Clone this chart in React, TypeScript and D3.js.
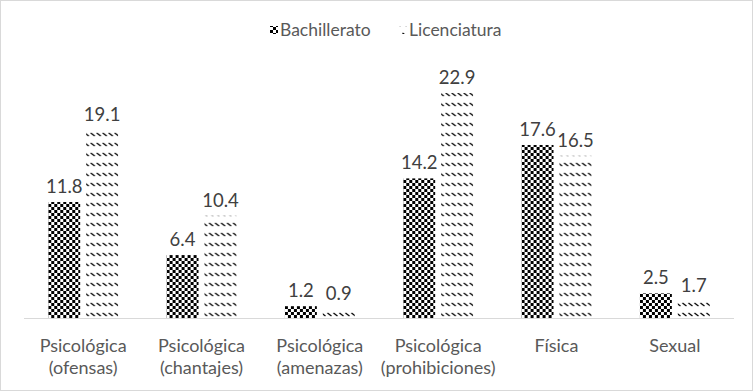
import React, { useEffect, useRef } from 'react';
import * as d3 from 'd3';

const categories = [
  ['Psicológica', '(ofensas)'],
  ['Psicológica', '(chantajes)'],
  ['Psicológica', '(amenazas)'],
  ['Psicológica', '(prohibiciones)'],
  ['Física'],
  ['Sexual'],
];
const seriesNames = ['Bachillerato', 'Licenciatura'];
const bachillerato = [11.8, 6.4, 1.2, 14.2, 17.6, 2.5];
const licenciatura = [19.1, 10.4, 0.9, 22.9, 16.5, 1.7];

const W = 753;
const H = 391;
const font = 'Lato, Calibri, sans-serif';

const App = () => {
  const svgRef = useRef<SVGSVGElement>(null);

  useEffect(() => {
    const svg = d3.select(svgRef.current);
    svg.selectAll('*').remove();

    // patterns
    const defs = svg.append('defs');
    const checker = defs.append('pattern')
      .attr('id', 'checker')
      .attr('patternUnits', 'userSpaceOnUse')
      .attr('width', 6)
      .attr('height', 6);
    checker.append('rect').attr('width', 6).attr('height', 6).attr('fill', '#fff');
    checker.append('rect').attr('width', 3).attr('height', 3).attr('fill', '#000');
    checker.append('rect').attr('x', 3).attr('y', 3).attr('width', 3).attr('height', 3).attr('fill', '#000');

    const dash = defs.append('pattern')
      .attr('id', 'dash')
      .attr('patternUnits', 'userSpaceOnUse')
      .attr('width', 6)
      .attr('height', 10);
    dash.append('rect').attr('width', 6).attr('height', 10).attr('fill', '#fff');
    dash.append('path').attr('d', 'M0.5,3 L4.5,6').attr('stroke', '#000').attr('stroke-width', 1.3);

    const fills = ['url(#checker)', 'url(#dash)'];

    // border
    svg.append('rect')
      .attr('x', 0.5).attr('y', 0.5)
      .attr('width', W - 1).attr('height', H - 1)
      .attr('fill', '#fff')
      .attr('stroke', '#d9d9d9');

    const x0 = d3.scaleBand<number>()
      .domain(d3.range(categories.length))
      .range([24, 734])
      .paddingInner(0.41)
      .paddingOuter(0.205);

    const x1 = d3.scaleBand<number>()
      .domain([0, 1])
      .range([0, x0.bandwidth()])
      .paddingInner(0.158);

    const y = d3.scaleLinear().domain([0, 25]).range([318, 72.25]);

    const data = [bachillerato, licenciatura];

    const groups = svg.append('g')
      .selectAll('g')
      .data(categories)
      .enter()
      .append('g')
      .attr('transform', (d, i) => `translate(${x0(i)},0)`);

    groups.each(function (d, i) {
      const g = d3.select(this);
      data.forEach((vals, s) => {
        g.append('rect')
          .attr('x', x1(s)!)
          .attr('y', y(vals[i]))
          .attr('width', x1.bandwidth())
          .attr('height', y(0) - y(vals[i]))
          .attr('fill', fills[s]);
        g.append('text')
          .attr('x', x1(s)! + x1.bandwidth() / 2)
          .attr('y', y(vals[i]) - 9)
          .attr('text-anchor', 'middle')
          .attr('font-family', font)
          .attr('font-size', 18.5)
          .attr('fill', '#404040')
          .text(vals[i].toFixed(1));
      });
    });

    // baseline
    svg.append('line')
      .attr('x1', 24).attr('x2', 734)
      .attr('y1', y(0) + 0.5).attr('y2', y(0) + 0.5)
      .attr('stroke', '#d9d9d9');

    // category labels
    categories.forEach((lines, i) => {
      const cx = x0(i)! + x0.bandwidth() / 2;
      lines.forEach((t, j) => {
        svg.append('text')
          .attr('x', cx)
          .attr('y', 352 + j * 22)
          .attr('text-anchor', 'middle')
          .attr('font-family', font)
          .attr('font-size', 18)
          .attr('fill', '#595959')
          .text(t);
      });
    });

    // legend
    const legendX = [270, 399];
    seriesNames.forEach((name, s) => {
      svg.append('rect')
        .attr('x', legendX[s]).attr('y', 26)
        .attr('width', 8).attr('height', 8)
        .attr('fill', fills[s]);
      svg.append('text')
        .attr('x', legendX[s] + 10)
        .attr('y', 36)
        .attr('font-family', font)
        .attr('font-size', 17.5)
        .attr('fill', '#595959')
        .text(name);
    });
  }, []);

  return (
    <div style={{ position: 'fixed', left: 0, top: 0 }}>
      <svg ref={svgRef} width={W} height={H}></svg>
    </div>
  );
};

export default App;
